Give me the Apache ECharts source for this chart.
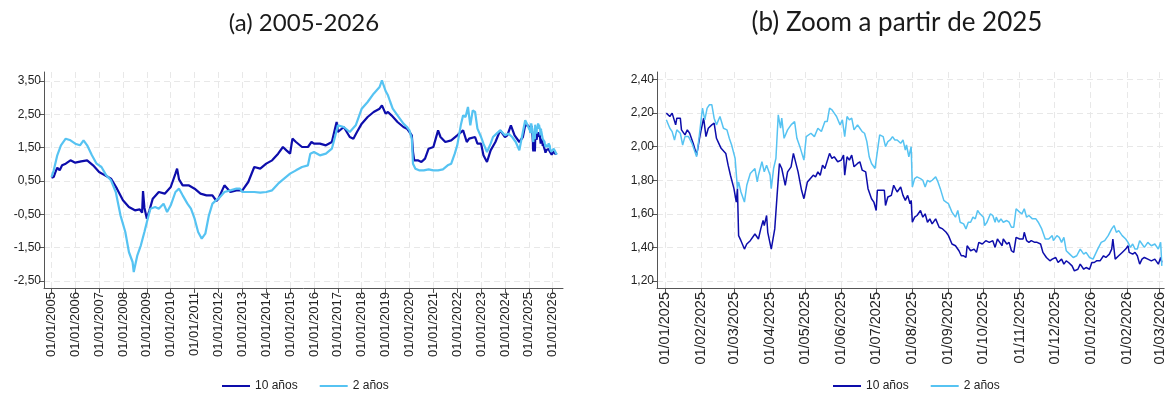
<!DOCTYPE html>
<html>
<head>
<meta charset="utf-8">
<script src="https://cdn.jsdelivr.net/npm/echarts@6/dist/echarts.min.js"></script>
<style>
  html, body { margin: 0; padding: 0; background: #ffffff; }
  #chart { width: 1167px; height: 394px; }
</style>
</head>
<body>
<div id="chart"></div>
<script>
// ---- (a) 2005-2026: long history, 10-year and 2-year series ----
const hist10Dates = [
  '2005-01-03','2005-02-06','2005-03-01','2005-04-01','2005-05-08','2005-06-14','2005-08-08','2005-10-20',
  '2006-01-01','2006-04-01','2006-07-02','2006-10-01',
  '2007-01-01','2007-04-01','2007-07-02','2007-10-01',
  '2008-01-01','2008-04-01','2008-07-02','2008-09-13','2008-10-20','2008-11-03','2008-11-24',
  '2009-01-01','2009-02-06','2009-04-01','2009-07-02','2009-10-01',
  '2010-01-01','2010-03-14','2010-04-08','2010-05-08','2010-07-02','2010-10-01',
  '2011-01-01','2011-04-01','2011-07-02','2011-10-01','2011-12-01',
  '2012-01-01','2012-04-01','2012-07-02','2012-10-01',
  '2013-01-01','2013-04-01','2013-07-02','2013-10-01',
  '2014-01-01','2014-04-01','2014-07-02','2014-09-13','2014-11-06',
  '2015-01-01','2015-02-06','2015-04-01','2015-07-02','2015-10-01','2015-11-24',
  '2016-01-01','2016-04-01','2016-07-02','2016-10-01','2016-11-24','2016-12-13',
  '2017-01-01','2017-04-01','2017-07-02','2017-08-26','2017-10-20',
  '2018-01-01','2018-04-01','2018-07-02','2018-10-01','2018-11-06',
  '2019-01-01','2019-02-06','2019-04-01','2019-07-02','2019-10-01','2019-11-24',
  '2020-01-01','2020-02-06','2020-02-24','2020-03-14','2020-05-08','2020-07-02','2020-08-26','2020-10-20',
  '2021-01-01','2021-02-06','2021-03-14','2021-04-20','2021-07-02','2021-10-01',
  '2022-01-01','2022-04-01','2022-05-27','2022-07-02','2022-10-01','2022-11-06',
  '2023-01-01','2023-02-06','2023-04-01','2023-05-27','2023-08-08','2023-10-20',
  '2024-01-01','2024-02-06','2024-04-01','2024-05-27','2024-08-08','2024-10-01','2024-11-06','2024-12-13'
];
const hist10 = [
  0.60, 0.62, 0.75, 0.90, 0.82, 0.97, 1.02, 1.12,
  1.05, 1.09, 1.12, 0.97,
  0.77, 0.67, 0.57, 0.27,
  -0.08, -0.28, -0.38, -0.35, -0.45, 0.20, -0.30,
  -0.63, -0.40, -0.03, 0.17, 0.12,
  0.32, 0.72, 0.87, 0.55, 0.37, 0.37,
  0.27, 0.12, 0.07, 0.07, -0.10,
  -0.03, 0.37, 0.17, 0.22,
  0.22, 0.47, 0.92, 0.87,
  1.02, 1.12, 1.32, 1.52, 1.42,
  1.32, 1.77, 1.67, 1.52, 1.52, 1.67,
  1.62, 1.62, 1.57, 1.67, 2.12, 2.27,
  1.97, 2.12, 1.82, 1.77, 1.97,
  2.22, 2.42, 2.57, 2.67, 2.77,
  2.52, 2.57, 2.47, 2.27, 2.12, 2.07,
  1.97, 1.87, 1.37, 1.12, 1.12, 1.07, 1.17, 1.47,
  1.52, 1.77, 2.02, 1.82, 1.67, 1.72,
  1.87, 2.02, 1.67, 1.77, 1.82, 1.62,
  1.62, 1.27, 1.07, 1.42, 1.67, 2.02,
  1.82, 1.87, 2.17, 1.87, 1.67, 1.82, 2.17, 2.17
];

const hist2Dates = [
  '2005-01-03','2005-02-06','2005-04-01','2005-05-27','2005-08-08','2005-10-20',
  '2006-01-01','2006-03-14','2006-05-08','2006-07-02','2006-09-13','2006-11-24',
  '2007-02-06','2007-04-20','2007-07-02','2007-09-13','2007-11-24',
  '2008-02-06','2008-04-01','2008-05-27','2008-06-14','2008-08-08','2008-10-01','2008-11-24',
  '2009-01-01','2009-02-24','2009-05-08','2009-07-02','2009-09-13','2009-11-06',
  '2010-01-01','2010-03-14','2010-05-08','2010-07-02','2010-09-13','2010-11-06',
  '2011-01-01','2011-02-24','2011-04-20','2011-06-14','2011-08-08','2011-10-01','2011-11-24',
  '2012-01-01','2012-04-01','2012-07-02','2012-10-01','2012-11-24',
  '2013-01-01','2013-04-01','2013-07-02','2013-10-01',
  '2014-01-01','2014-04-01','2014-07-02','2014-10-01',
  '2015-01-01','2015-04-01','2015-07-02','2015-10-01','2015-11-06',
  '2016-01-01','2016-04-01','2016-07-02','2016-10-01','2016-11-24',
  '2017-01-01','2017-04-01','2017-07-02','2017-10-01',
  '2018-01-01','2018-04-01','2018-07-02','2018-10-01','2018-11-06',
  '2019-01-01','2019-02-06','2019-03-14','2019-04-20','2019-07-02','2019-10-01','2019-11-24',
  '2020-01-01','2020-02-06','2020-02-24','2020-04-01','2020-05-27','2020-08-08','2020-10-20',
  '2021-01-01','2021-03-14','2021-05-27','2021-08-08','2021-10-01','2021-11-24',
  '2022-01-01','2022-02-24','2022-04-01','2022-05-08','2022-06-14','2022-07-20','2022-08-26','2022-10-01','2022-11-06',
  '2023-01-01','2023-02-06','2023-04-01','2023-05-27','2023-07-02','2023-08-26','2023-10-20',
  '2024-01-01','2024-02-24','2024-04-20','2024-06-14','2024-08-08','2024-10-01','2024-11-06','2024-12-13'
];
const hist2 = [
  0.62, 0.82, 1.27, 1.57, 1.77, 1.72,
  1.62, 1.57, 1.72, 1.57, 1.27, 1.02,
  0.92, 0.67, 0.52, 0.17, -0.53,
  -1.03, -1.63, -1.93, -2.23, -1.73, -1.43, -1.03,
  -0.73, -0.33, -0.28, -0.33, -0.18, -0.43,
  -0.23, 0.17, 0.27, 0.07, -0.18, -0.33,
  -0.63, -1.03, -1.23, -1.08, -0.53, -0.18, -0.08,
  -0.03, 0.17, 0.22, 0.27, 0.27,
  0.17, 0.17, 0.17, 0.15,
  0.17, 0.22, 0.42, 0.57,
  0.72, 0.82, 0.92, 0.97, 1.32,
  1.37, 1.27, 1.32, 1.47, 1.87,
  2.17, 2.12, 1.97, 2.17,
  2.67, 2.87, 3.12, 3.32, 3.52,
  3.20, 3.07, 2.87, 2.67, 2.47, 2.22, 2.12,
  2.02, 1.77, 1.02, 0.87, 0.82, 0.82, 0.85,
  0.82, 0.82, 0.85, 0.97, 1.02, 1.32,
  1.57, 2.17, 2.47, 2.42, 2.72, 2.17, 2.62, 2.57, 2.07,
  1.82, 1.62, 1.37, 1.62, 1.82, 1.92, 2.02,
  1.87, 1.92, 1.82, 1.67, 1.42, 1.97, 2.32, 2.17
];

// ---- (b) from January 2025 onwards ----
const zoom10Dates = [
  '2025-01-02','2025-01-05','2025-01-07','2025-01-10','2025-01-11','2025-01-14','2025-01-15','2025-01-18','2025-01-20','2025-01-22','2025-01-25','2025-01-28','2025-01-31',
  '2025-02-03','2025-02-05','2025-02-07','2025-02-10','2025-02-12','2025-02-14','2025-02-16','2025-02-18','2025-02-22','2025-02-24','2025-02-26',
  '2025-03-01','2025-03-03','2025-03-04','2025-03-05','2025-03-07','2025-03-10','2025-03-12','2025-03-15','2025-03-19','2025-03-22','2025-03-24','2025-03-26','2025-03-27','2025-03-29','2025-03-30',
  '2025-04-02','2025-04-05','2025-04-07','2025-04-09','2025-04-11','2025-04-14','2025-04-16','2025-04-19','2025-04-21','2025-04-25','2025-04-28','2025-04-30',
  '2025-05-03','2025-05-08','2025-05-10','2025-05-12','2025-05-14','2025-05-16','2025-05-18','2025-05-22','2025-05-24','2025-05-26','2025-05-29',
  '2025-06-01','2025-06-03','2025-06-04','2025-06-06','2025-06-08','2025-06-10','2025-06-12','2025-06-15','2025-06-17','2025-06-19','2025-06-22','2025-06-24','2025-06-27','2025-06-29',
  '2025-07-01','2025-07-02','2025-07-05','2025-07-08','2025-07-09','2025-07-11','2025-07-14','2025-07-16','2025-07-17','2025-07-19','2025-07-22','2025-07-24','2025-07-26','2025-07-28','2025-07-30','2025-07-31',
  '2025-08-01','2025-08-03','2025-08-05','2025-08-08','2025-08-10','2025-08-12','2025-08-14','2025-08-16','2025-08-18','2025-08-21','2025-08-24','2025-08-27','2025-08-30',
  '2025-09-01','2025-09-04','2025-09-07','2025-09-10','2025-09-12','2025-09-14','2025-09-16','2025-09-17','2025-09-20','2025-09-23','2025-09-25','2025-09-27','2025-09-30',
  '2025-10-03','2025-10-06','2025-10-09','2025-10-11','2025-10-13','2025-10-15','2025-10-17','2025-10-18','2025-10-21','2025-10-23','2025-10-25','2025-10-27','2025-10-29',
  '2025-11-01','2025-11-04','2025-11-05','2025-11-07','2025-11-09','2025-11-11','2025-11-12','2025-11-14','2025-11-16','2025-11-19','2025-11-21','2025-11-24','2025-11-27','2025-11-29',
  '2025-12-02','2025-12-04','2025-12-07','2025-12-09','2025-12-11','2025-12-13','2025-12-16','2025-12-18','2025-12-21','2025-12-23','2025-12-26','2025-12-28','2025-12-31',
  '2026-01-02','2026-01-04','2026-01-06','2026-01-09','2026-01-12','2026-01-14','2026-01-17','2026-01-19','2026-01-20','2026-01-22','2026-01-25','2026-01-28','2026-01-31',
  '2026-02-02','2026-02-03','2026-02-06','2026-02-08','2026-02-10','2026-02-12','2026-02-14','2026-02-16','2026-02-19','2026-02-22','2026-02-25','2026-02-28',
  '2026-03-02','2026-03-03'
];
const zoom10 = [
  2.20, 2.18, 2.20, 2.13, 2.17, 2.17, 2.10, 2.07, 2.10, 2.08, 2.02, 1.95, 2.07,
  2.17, 2.06, 2.11, 2.13, 2.14, 2.05, 2.02, 1.99, 1.96, 1.89, 1.83,
  1.75, 1.67, 1.75, 1.47, 1.44, 1.39, 1.42, 1.44, 1.48, 1.45, 1.51, 1.56, 1.53, 1.59, 1.49,
  1.39, 1.51, 1.71, 1.90, 1.87, 1.77, 1.85, 1.88, 1.96, 1.85, 1.74, 1.69,
  1.79, 1.83, 1.82, 1.85, 1.83, 1.89, 1.87, 1.96, 1.93, 1.94, 1.91,
  1.92, 1.95, 1.83, 1.94, 1.92, 1.95, 1.88, 1.90, 1.91, 1.86, 1.85, 1.75, 1.69, 1.67,
  1.62, 1.74, 1.74, 1.74, 1.65, 1.70, 1.71, 1.77, 1.78, 1.73, 1.76, 1.71, 1.68, 1.71, 1.66, 1.68,
  1.55, 1.58, 1.59, 1.62, 1.58, 1.60, 1.55, 1.57, 1.54, 1.57, 1.52, 1.51, 1.49,
  1.47, 1.42, 1.41, 1.38, 1.35, 1.35, 1.34, 1.41, 1.38, 1.39, 1.37, 1.43, 1.42,
  1.44, 1.43, 1.44, 1.40, 1.45, 1.43, 1.41, 1.45, 1.42, 1.43, 1.38, 1.37, 1.46,
  1.45, 1.45, 1.49, 1.44, 1.43, 1.44, 1.43, 1.43, 1.43, 1.42, 1.37, 1.34, 1.32, 1.33,
  1.34, 1.31, 1.33, 1.30, 1.32, 1.31, 1.29, 1.26, 1.27, 1.30, 1.27, 1.28, 1.27,
  1.31, 1.31, 1.32, 1.32, 1.35, 1.34, 1.36, 1.39, 1.45, 1.33, 1.35, 1.37, 1.39,
  1.41, 1.37, 1.36, 1.37, 1.35, 1.30, 1.33, 1.34, 1.33, 1.32, 1.33, 1.30,
  1.34, 1.31
];

const zoom2Dates = [
  '2025-01-02','2025-01-05','2025-01-07','2025-01-09','2025-01-11','2025-01-14','2025-01-16','2025-01-18','2025-01-21','2025-01-24','2025-01-26','2025-01-28','2025-01-30',
  '2025-02-02','2025-02-04','2025-02-06','2025-02-08','2025-02-10','2025-02-12','2025-02-14','2025-02-17','2025-02-20','2025-02-23','2025-02-25','2025-02-27',
  '2025-03-02','2025-03-04','2025-03-05','2025-03-07','2025-03-10','2025-03-12','2025-03-15','2025-03-19','2025-03-21','2025-03-22','2025-03-25','2025-03-27','2025-03-29',
  '2025-04-01','2025-04-02','2025-04-04','2025-04-06','2025-04-08','2025-04-10','2025-04-11','2025-04-13','2025-04-16','2025-04-19','2025-04-22','2025-04-24','2025-04-27','2025-04-30',
  '2025-05-02','2025-05-06','2025-05-09','2025-05-12','2025-05-15','2025-05-18','2025-05-20','2025-05-22','2025-05-24','2025-05-26','2025-05-28','2025-05-31',
  '2025-06-02','2025-06-03','2025-06-04','2025-06-06','2025-06-08','2025-06-10','2025-06-12','2025-06-15','2025-06-17','2025-06-19','2025-06-21','2025-06-23','2025-06-25','2025-06-27','2025-06-30',
  '2025-07-02','2025-07-04','2025-07-07','2025-07-09','2025-07-11','2025-07-13','2025-07-15','2025-07-17','2025-07-19','2025-07-22','2025-07-24','2025-07-26','2025-07-27','2025-07-29','2025-07-31',
  '2025-08-01','2025-08-03','2025-08-05','2025-08-08','2025-08-10','2025-08-12','2025-08-14','2025-08-16','2025-08-18','2025-08-21','2025-08-23','2025-08-25','2025-08-28','2025-08-30',
  '2025-09-01','2025-09-04','2025-09-07','2025-09-09','2025-09-11','2025-09-14','2025-09-16','2025-09-18','2025-09-20','2025-09-22','2025-09-24','2025-09-26','2025-09-28',
  '2025-10-01','2025-10-02','2025-10-04','2025-10-07','2025-10-09','2025-10-11','2025-10-12','2025-10-14','2025-10-16','2025-10-18','2025-10-21','2025-10-23','2025-10-25','2025-10-27','2025-10-29',
  '2025-11-01','2025-11-03','2025-11-05','2025-11-07','2025-11-09','2025-11-12','2025-11-15','2025-11-17','2025-11-20','2025-11-23','2025-11-26','2025-11-29','2025-11-30',
  '2025-12-03','2025-12-05','2025-12-07','2025-12-09','2025-12-11','2025-12-14','2025-12-17','2025-12-20','2025-12-23','2025-12-26','2025-12-28','2025-12-31',
  '2026-01-03','2026-01-04','2026-01-07','2026-01-10','2026-01-13','2026-01-16','2026-01-19','2026-01-21','2026-01-23','2026-01-25','2026-01-28','2026-01-31',
  '2026-02-02','2026-02-04','2026-02-06','2026-02-08','2026-02-10','2026-02-12','2026-02-14','2026-02-16','2026-02-19','2026-02-22','2026-02-25','2026-02-28',
  '2026-03-02','2026-03-03'
];
const zoom2 = [
  2.16, 2.11, 2.09, 2.04, 2.10, 2.08, 2.01, 2.06, 2.06, 2.02, 1.98, 1.94, 2.05,
  2.23, 2.16, 2.23, 2.25, 2.25, 2.17, 2.13, 2.18, 2.11, 2.10, 2.05, 2.01,
  1.93, 1.75, 1.79, 1.73, 1.67, 1.77, 1.84, 1.87, 1.79, 1.83, 1.91, 1.85, 1.89,
  1.83, 1.75, 1.87, 1.93, 2.19, 2.11, 2.17, 2.05, 2.10, 2.13, 2.15, 2.05, 1.99, 1.92,
  2.06, 2.08, 2.06, 2.11, 2.09, 2.15, 2.15, 2.23, 2.22, 2.20, 2.18, 2.13,
  2.16, 2.17, 2.06, 2.18, 2.16, 2.17, 2.10, 2.13, 2.11, 2.09, 2.08, 2.03, 1.94, 1.90, 1.87,
  1.97, 2.07, 2.06, 2.00, 2.03, 2.04, 2.06, 2.04, 2.04, 2.02, 2.04, 1.98, 2.01, 1.94, 2.00,
  1.76, 1.81, 1.82, 1.81, 1.80, 1.76, 1.80, 1.79, 1.80, 1.82, 1.79, 1.75, 1.68, 1.67,
  1.66, 1.61, 1.58, 1.62, 1.55, 1.54, 1.51, 1.55, 1.55, 1.58, 1.57, 1.62, 1.60,
  1.58, 1.53, 1.55, 1.60, 1.59, 1.55, 1.58, 1.55, 1.57, 1.55, 1.56, 1.55, 1.52, 1.52, 1.63,
  1.61, 1.60, 1.63, 1.58, 1.59, 1.57, 1.57, 1.55, 1.51, 1.45, 1.45, 1.47, 1.44,
  1.47, 1.46, 1.43, 1.46, 1.38, 1.36, 1.34, 1.35, 1.39, 1.36, 1.37, 1.34,
  1.33, 1.32, 1.39, 1.43, 1.44, 1.47, 1.51, 1.53, 1.49, 1.50, 1.47, 1.45,
  1.43, 1.40, 1.42, 1.39, 1.39, 1.44, 1.42, 1.40, 1.43, 1.41, 1.42, 1.39,
  1.43, 1.29
];

// ---- tick positions ----
const histTicks = [
  '2005-01-01','2006-01-01','2007-01-01','2008-01-01','2009-01-01','2010-01-01','2011-01-01',
  '2012-01-01','2013-01-01','2014-01-01','2015-01-01','2016-01-01','2017-01-01','2018-01-01',
  '2019-01-01','2020-01-01','2021-01-01','2022-01-01','2023-01-01','2024-01-01','2025-01-01','2026-01-01'
];
const zoomTicks = [
  '2025-01-01','2025-02-01','2025-03-01','2025-04-01','2025-05-01','2025-06-01','2025-07-01',
  '2025-08-01','2025-09-01','2025-10-01','2025-11-01','2025-12-01','2026-01-01','2026-02-01','2026-03-01'
];
const histYTicks = [-2.5, -1.5, -0.5, 0.5, 1.5, 2.5, 3.5];
const zoomYTicks = [1.2, 1.4, 1.6, 1.8, 2.0, 2.2, 2.4];

const seriesNames = ['10 años', '2 años'];
const titles = ['(a) 2005-2026', '(b) Zoom a partir de 2025'];

// ---- helpers ----
// dates are kept as UTC milliseconds on a plain value axis
const ts = s => { const p = s.split('-').map(Number); return Date.UTC(p[0], p[1] - 1, p[2]); };
const pairs = (dates, vals) => dates.map((d, i) => [ts(d), vals[i]]);
const pad2 = n => (n < 10 ? '0' : '') + n;
const fmtDate = v => { const d = new Date(v); return pad2(d.getUTCDate()) + '/' + pad2(d.getUTCMonth() + 1) + '/' + d.getUTCFullYear(); };
const fmtNum = v => Number(v).toFixed(2).replace('.', ',');

const C_DARK = '#0d0dab';
const C_LIGHT = '#56c3f2';
const SERIES_COLORS = [C_DARK, C_LIGHT];
const AXIS_C = '#555555';
const LABEL_FONT = 'Liberation Sans, Arial, sans-serif';
const GRID_LINE = { show: true, lineStyle: { color: '#e8e8e8', type: [6, 4], width: 1 } };

function xAxisFor(gridIndex, minDate, maxDate, ticks, fontSize) {
  const vals = ticks.map(ts);
  return {
    type: 'value', gridIndex,
    min: ts(minDate), max: ts(maxDate),
    axisLine: { show: true, onZero: false, lineStyle: { color: AXIS_C, width: 1 } },
    axisTick: { show: true, length: 5, customValues: vals, lineStyle: { color: AXIS_C } },
    axisLabel: {
      customValues: vals, rotate: 90, margin: 4, formatter: fmtDate,
      color: '#222', fontFamily: LABEL_FONT, fontSize
    },
    splitLine: GRID_LINE
  };
}
function yAxisFor(gridIndex, min, max, ticks) {
  return {
    type: 'value', gridIndex, min, max,
    axisLine: { show: true, onZero: false, lineStyle: { color: AXIS_C, width: 1 } },
    axisTick: { show: true, length: 5, customValues: ticks, lineStyle: { color: AXIS_C } },
    axisLabel: {
      customValues: ticks, margin: 3, formatter: fmtNum,
      color: '#222', fontFamily: LABEL_FONT, fontSize: 12
    },
    splitLine: GRID_LINE
  };
}
function lineSeries(name, idx, data, color, width) {
  return {
    name, type: 'line', xAxisIndex: idx, yAxisIndex: idx, data,
    showSymbol: false, symbol: 'none', clip: false,
    lineStyle: { color, width }, itemStyle: { color },
    emphasis: { disabled: true }
  };
}

const chart = echarts.init(document.getElementById('chart'), null, { renderer: 'canvas' });
const titleStyle = size => ({ fontFamily: 'Lato, sans-serif', fontSize: size, fontWeight: 'normal', color: '#1a1a1a' });
const legendBase = {
  data: seriesNames.map((n, i) => ({
    name: n,
    icon: 'rect',
    itemStyle: { color: SERIES_COLORS[i], borderWidth: 0 }
  })),
  top: 380, padding: 0, itemWidth: 28, itemHeight: 2, itemGap: 22,
  textStyle: { fontFamily: LABEL_FONT, fontSize: 12, color: '#222', lineHeight: 12 }
};

chart.setOption({
  animation: false,
  backgroundColor: '#ffffff',
  title: [
    { text: titles[0], left: 304, top: 11, padding: 0, textAlign: 'center', textStyle: titleStyle(24) },
    { text: titles[1], left: 897, top: 10, padding: 0, textAlign: 'center', textStyle: titleStyle(26) }
  ],
  legend: [
    Object.assign({ left: 222 }, legendBase),
    Object.assign({ left: 833 }, legendBase)
  ],
  grid: [
    { left: 44, top: 72, width: 519, height: 216 },
    { left: 657, top: 72, width: 510, height: 216 }
  ],
  xAxis: [
    xAxisFor(0, '2004-09-10', '2026-06-07', histTicks, 13),
    xAxisFor(1, '2024-12-25', '2026-03-05', zoomTicks, 14.5)
  ],
  yAxis: [
    yAxisFor(0, -2.71, 3.77, histYTicks),
    yAxisFor(1, 1.158, 2.445, zoomYTicks)
  ],
  series: [
    lineSeries(seriesNames[0], 0, pairs(hist10Dates, hist10).concat(pairs(zoom10Dates, zoom10)), C_DARK, 2.2),
    lineSeries(seriesNames[1], 0, pairs(hist2Dates, hist2).concat(pairs(zoom2Dates, zoom2)), C_LIGHT, 2.2),
    lineSeries(seriesNames[0], 1, pairs(zoom10Dates, zoom10), C_DARK, 1.5),
    lineSeries(seriesNames[1], 1, pairs(zoom2Dates, zoom2), C_LIGHT, 1.5)
  ]
});
</script>
</body>
</html>
